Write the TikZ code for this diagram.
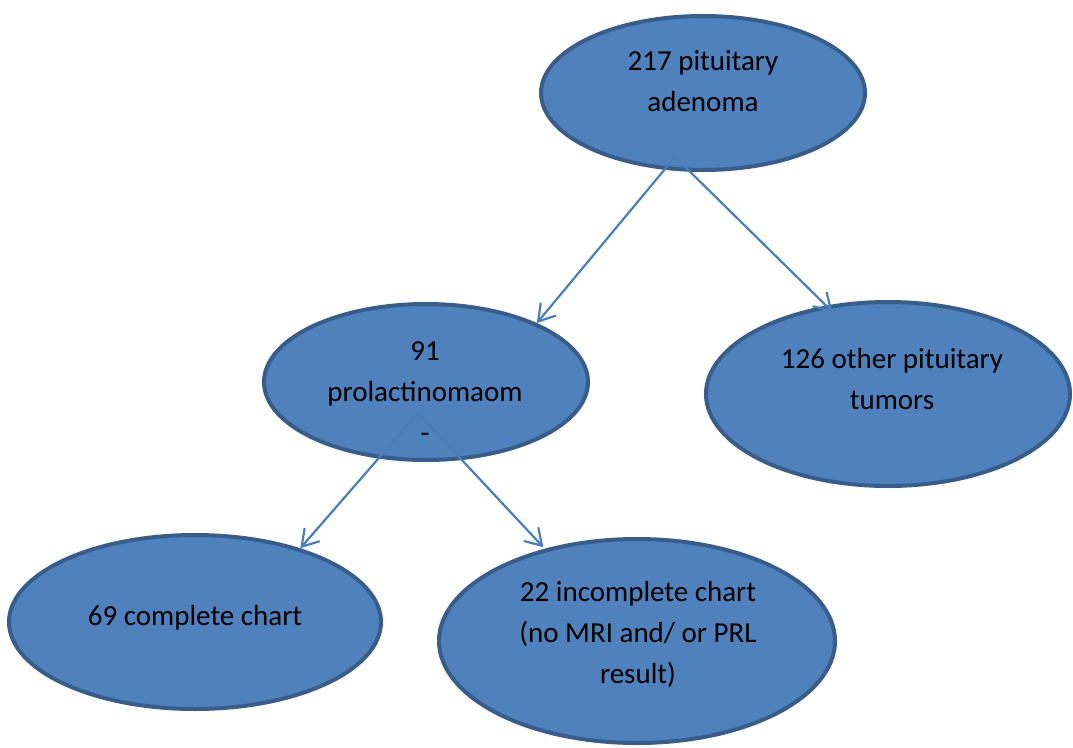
\documentclass[tikz,border=0pt]{standalone}
\usepackage{fontspec}
\setmainfont{Carlito}
\usetikzlibrary{shapes}
\usetikzlibrary{arrows.meta}
\usetikzlibrary{positioning}

\definecolor{blobfill}{HTML}{4F81BD}
\definecolor{blobline}{HTML}{385D8A}
\definecolor{linkline}{HTML}{4A7EBB}

\tikzset{
  blob/.style={ellipse, draw=blobline, fill=blobfill, line width=4pt, inner sep=0pt},
  txt/.style={align=center, font=\fontsize{29}{41}\selectfont, text=black, inner sep=0pt},
  link/.style={draw=linkline, line width=2.2pt,
    -{Straight Barb[length=16pt,width=20pt,line width=2.2pt]}}
}

\begin{document}
\begin{tikzpicture}[x=1pt, y=-1pt]
    \useasboundingbox (0,0) rectangle (1073,747);
    % ellipses
    \node[blob, minimum width=324, minimum height=154] (top) at (703,93) {};
    \node[blob, minimum width=324, minimum height=156] (mid) at (426,382) {};
    \node[blob, minimum width=364, minimum height=184] (other) at (888,394) {};
    \node[blob, minimum width=372, minimum height=174] (done) at (195,622) {};
    \node[blob, minimum width=396, minimum height=204] (undone) at (637,641) {};
    % texts
    \node[txt] (topT) at (703,81) {217 pituitary\\adenoma};
    \node[txt] (midT) at (425,392) {91\\prolactinomaom\\-};
    \node[txt] (otherT) at (892,379) {126 other pituitary\\tumors};
    \node[txt] (doneT) at (195,618) {69 complete chart};
    \node[txt] (undoneT) at (638,634) {22 incomplete chart\\(no MRI and/ or PRL\\result)};
    % arrows
    \coordinate (topfoot) at (675,157);
    \coordinate (midfoot) at (418,413);
    \draw[link] (topfoot) -- (mid.28);
    \draw[link, shorten >=-9pt] (topfoot) -- (other.125);
    \draw[link] (midfoot) -- (done.35);
    \draw[link, shorten >=2pt] (midfoot) -- (undone.135);
\end{tikzpicture}
\end{document}
